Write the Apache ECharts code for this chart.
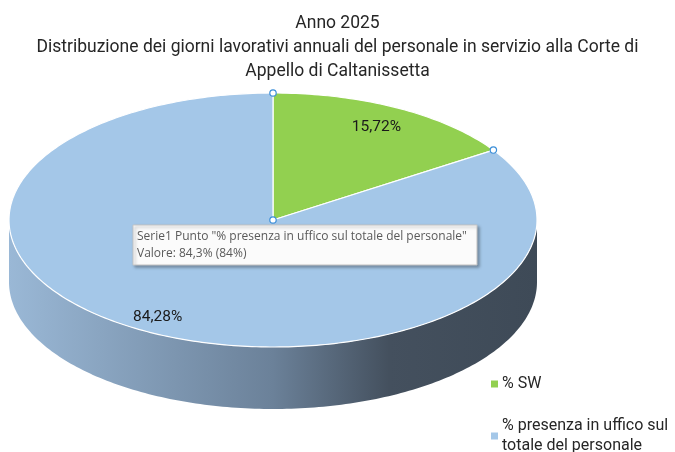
<!DOCTYPE html>
<html>
<head>
<meta charset="utf-8">
<script src="https://cdn.jsdelivr.net/npm/echarts@6/dist/echarts.min.js"></script>
<style>
  html, body { margin: 0; padding: 0; background: #fff; }
  #main { width: 675px; height: 452px; }
</style>
</head>
<body>
<div id="main"></div>
<script>
// dati del grafico
var categories = ['% SW', '% presenza in uffico sul totale del personale'];
var values = [15.72, 84.28];
var valueLabels = ['15,72%', '84,28%'];
var colors = ['#92d050', '#a4c7e8'];

var myChart = echarts.init(document.getElementById('main'));

// geometria della torta "3D"
var cx = 273, cy = 220, rx = 264, ry = 127, depth = 62;
var total = values.reduce(function (a, b) { return a + b; }, 0);

function pt(deg, dy) {
  var r = deg * Math.PI / 180;
  return [cx + rx * Math.sin(r), cy - ry * Math.cos(r) + (dy || 0)];
}
function arc(a, b, dy) {
  var pts = [];
  var step = a < b ? 1 : -1;
  for (var d = a; step > 0 ? d < b : d > b; d += step) pts.push(pt(d, dy));
  pts.push(pt(b, dy));
  return pts;
}

var sideGradient = new echarts.graphic.LinearGradient(cx - rx, 0, cx + rx, 0, [
  { offset: 0, color: '#9ab8d6' },
  { offset: 0.5, color: '#6b8199' },
  { offset: 0.72, color: '#44505e' },
  { offset: 1, color: '#3e4a57' }
], true);

function renderSlice(params, api) {
  var idx = params.seriesIndex;
  var start = 0;
  for (var i = 0; i < idx; i++) start += values[i];
  var a = start / total * 360;
  var b = (start + values[idx]) / total * 360;
  var children = [];

  // lato frontale visibile (90..270 gradi)
  var sa = Math.max(a, 90), sb = Math.min(b, 270);
  if (sb > sa) {
    var side = arc(sa, sb, 0).concat(arc(sb, sa, depth));
    children.push({
      type: 'polygon',
      shape: { points: side },
      style: { fill: sideGradient, stroke: null }
    });
  }

  // faccia superiore
  var top = [[cx, cy]].concat(arc(a, b, 0));
  children.push({
    type: 'polygon',
    shape: { points: top },
    style: { fill: colors[idx], stroke: '#ffffff', lineWidth: 1.2 }
  });

  // etichetta valore
  var mid = (a + b) / 2 * Math.PI / 180;
  children.push({
    type: 'text',
    x: cx + rx * 0.85 * Math.sin(mid) - (idx === 1 ? 9 : 3),
    y: cy - ry * 0.85 * Math.cos(mid) + 2,
    style: {
      text: valueLabels[idx],
      fill: '#1a1a1a',
      font: '15.5px Roboto, sans-serif',
      align: 'center',
      verticalAlign: 'middle'
    },
    z2: 10
  });

  // maniglie di selezione sulla fetta selezionata
  if (idx === 1) {
    [[cx, cy], pt(a, 0), pt(b, 0)].forEach(function (p) {
      children.push({
        type: 'circle',
        shape: { cx: p[0], cy: p[1], r: 3.2 },
        style: { fill: '#ffffff', stroke: '#3b8ed8', lineWidth: 1.2 },
        z2: 20
      });
    });
  }
  return { type: 'group', children: children };
}

var option = {
  color: colors,
  animation: false,
  title: {
    text: 'Anno 2025\nDistribuzione dei giorni lavorativi annuali del personale in servizio alla Corte di\nAppello di Caltanissetta',
    left: 'center',
    top: 7,
    textStyle: {
      fontSize: 17.5,
      fontWeight: 'normal',
      color: '#262626',
      lineHeight: 24,
      fontFamily: 'Roboto, sans-serif',
      align: 'center'
    }
  },
  legend: {
    orient: 'vertical',
    left: 491,
    top: 374,
    width: 184,
    height: 110,
    padding: 0,
    icon: 'rect',
    itemWidth: 7,
    itemHeight: 7,
    itemGap: 22,
    data: categories,
    formatter: function (name) {
      return name === categories[1] ? '% presenza in uffico sul\ntotale del personale' : name;
    },
    textStyle: {
      fontSize: 16,
      color: '#262626',
      lineHeight: 20,
      padding: [0, 0, 0, -1],
      fontFamily: 'Roboto, sans-serif'
    }
  },
  series: categories.map(function (name, i) {
    return {
      name: name,
      type: 'custom',
      coordinateSystem: 'none',
      renderItem: renderSlice,
      data: [[values[i]]],
      silent: true
    };
  })
};

myChart.setOption(option);

// riquadro del suggerimento (come nello screenshot originale)
myChart.setOption({
  graphic: {
    elements: [
      {
        type: 'rect',
        z: 100,
        shape: { x: 133, y: 225, width: 344, height: 40 },
        style: {
          fill: '#fbfbfb', stroke: '#c4c4c4', lineWidth: 1,
          shadowBlur: 3, shadowOffsetX: 2, shadowOffsetY: 2, shadowColor: 'rgba(0,0,0,0.3)'
        }
      },
      {
        type: 'text', z: 101, x: 137, y: 231,
        style: { text: 'Serie1 Punto "% presenza in uffico sul totale del personale"', fill: '#595959', font: '12px "Open Sans", sans-serif' }
      },
      {
        type: 'text', z: 101, x: 137, y: 248,
        style: { text: 'Valore: 84,3% (84%)', fill: '#595959', font: '12px "Open Sans", sans-serif' }
      }
    ]
  }
});
</script>
</body>
</html>
